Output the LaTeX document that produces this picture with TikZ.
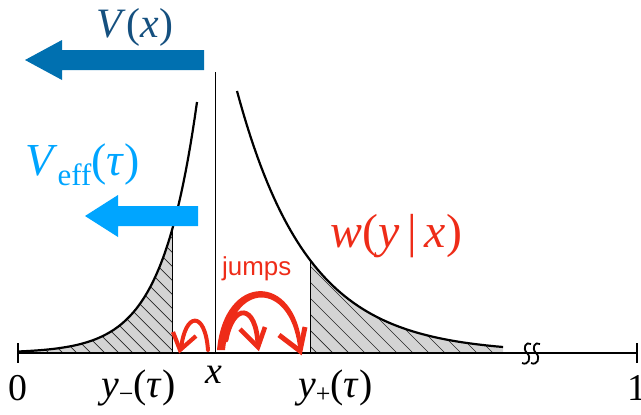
\documentclass[tikz,border=0pt]{standalone}
\usepackage{fontspec}
\setmainfont{Liberation Serif}
\newfontfamily\jumpfont{Liberation Sans}
\usetikzlibrary{arrows.meta}
\definecolor{vdark}{HTML}{0070B0}
\definecolor{vtext}{HTML}{15507F}
\definecolor{vlight}{HTML}{00A5FF}
\definecolor{jred}{HTML}{EE2C18}
\definecolor{hatchgray}{HTML}{D4D4D4}
\tikzset{
  curve/.style={line width=2.2bp, black},
  axisline/.style={line width=2.8bp, black},
  hatchline/.style={line width=0.7bp, black!85},
  jumpstroke/.style={jred, line width=#1, line cap=round},
  jumpbarb/.style={jred, line width=#1, line cap=butt, line join=miter},
  lbl/.style={inner sep=0pt, font=\fontsize{38}{38}\selectfont},
}
\begin{document}
\begin{tikzpicture}[x=1bp,y=-1bp]
\useasboundingbox (0,0) rectangle (641,414);
% shaded regions
\begin{scope}
\clip (19,353) -- plot[domain=19:172,samples=60] (\x,{353-251*exp(-(197-\x)/35)}) -- (172,353) -- cycle;
\fill[hatchgray] (0,0) rectangle (641,414);
\foreach \k in {-300,-286,...,300} \draw[hatchline] (\k,200) -- ++(200,200);
\end{scope}
\begin{scope}
\clip (310,353) -- plot[domain=310:503,samples=60] (\x,{353-262*exp(-(\x-237)/70.5)}) -- (503,353) -- cycle;
\fill[hatchgray] (0,0) rectangle (641,414);
\foreach \k in {100,116,...,560} \draw[hatchline] (\k,200) -- ++(200,200);
\end{scope}
\coordinate (ym) at (172,353);
\coordinate (ymt) at (172,{353-251*exp(-25/35)});
\coordinate (yp) at (310,353);
\coordinate (ypt) at (310,{353-262*exp(-73/70.5)});
\draw[line width=1bp] (ym) -- (ymt);
\draw[line width=1bp] (yp) -- (ypt);
% curves
\draw[curve] plot[domain=19:197,samples=80] (\x,{353-251*exp(-(197-\x)/35)});
\draw[curve] plot[domain=237:503,samples=80] (\x,{353-262*exp(-(\x-237)/70.5)});
% vertical line at x
\coordinate (xtop) at (215,72);
\coordinate (xbot) at (215,353);
\draw[line width=1bp] (xtop) -- (xbot);
% axis
\coordinate (a0) at (18,353);
\coordinate (a1) at (637,353);
\draw[axisline] (a0) -- (a1);
\draw[axisline] (18,343) -- (18,363);
\draw[axisline] (637,343) -- (637,363);
% break mark
\foreach \dx in {0,9}{
  \draw[line width=1.8bp] ([xshift=\dx bp]531,344) .. controls ([xshift=\dx bp]526,341) and ([xshift=\dx bp]522,348) .. ([xshift=\dx bp]527,353) .. controls ([xshift=\dx bp]532,358) and ([xshift=\dx bp]528,366) .. ([xshift=\dx bp]522,363);
}
% big arrows
\fill[vdark] (204,50) -- (62,50) -- (62,40) -- (25,60) -- (62,80) -- (62,70) -- (204,70) -- cycle;
\fill[vlight] (198,206) -- (118,206) -- (118,195) -- (85,216) -- (118,237) -- (118,226) -- (198,226) -- cycle;
% jump arrows
\coordinate (j1s) at (208,350);
\coordinate (j1e) at (181,349);
\coordinate (j2s) at (226,340);
\coordinate (j2e) at (258,345);
\coordinate (j3s) at (221,350);
\coordinate (j3e) at (300,349);
% large jump (tapered, filled)
\fill[jred] (217,350) .. controls (224,272) and (296,272) .. (302,347)
  -- (298,347) .. controls (290,281) and (232,280) .. (225,350) -- cycle;
\draw[jumpbarb=5bp] (279,335) -- (300,351) -- (305,327);
% medium jump
\draw[jumpstroke=4.8bp] (j2s) .. controls (233,303) and (256,303) .. (j2e);
\draw[jumpbarb=4.6bp] (240,329) -- (258,347) -- (265,327);
% small jump
\draw[jumpstroke=4bp] (j1s) .. controls (205,310) and (185,312) .. (j1e);
\draw[jumpbarb=4.2bp] (173,332) -- (180,350) -- (196,336);
% labels
\node[anchor=base, inner sep=0pt, text=vtext, font=\fontsize{42}{42}\selectfont] (vx) at (135,37) {\textit{V}(\textit{x})};
\node[anchor=base west, inner sep=0pt, text=vlight, font=\fontsize{46}{46}\selectfont] (veff) at (25,175) {\textit{V}\raisebox{-10bp}{\fontsize{31}{31}\selectfont eff}(\textit{τ})};
\node[anchor=base west, inner sep=0pt, text=jred, font=\fontsize{48}{48}\selectfont] (w) at (330,247) {\textit{w}(\textit{y}\,|\,\textit{x})};
\node[anchor=base west, inner sep=0pt, text=jred, font=\jumpfont\fontsize{26}{26}\selectfont] (jumps) at (222,275) {jumps};
\node[lbl, anchor=base] (l0) at (18,400) {0};
\node[lbl, anchor=base] (lx) at (214,383) {\textit{x}};
\node[lbl, anchor=base west, font=\fontsize{40}{40}\selectfont] (lym) at (101,397) {\textit{y}\raisebox{-5bp}{\fontsize{26}{26}\selectfont −}(\textit{τ})};
\node[lbl, anchor=base west, font=\fontsize{40}{40}\selectfont] (lyp) at (298,397) {\textit{y}\raisebox{-5bp}{\fontsize{26}{26}\selectfont +}(\textit{τ})};
\node[lbl, anchor=base] (l1) at (637,400) {1};
\end{tikzpicture}
\end{document}
